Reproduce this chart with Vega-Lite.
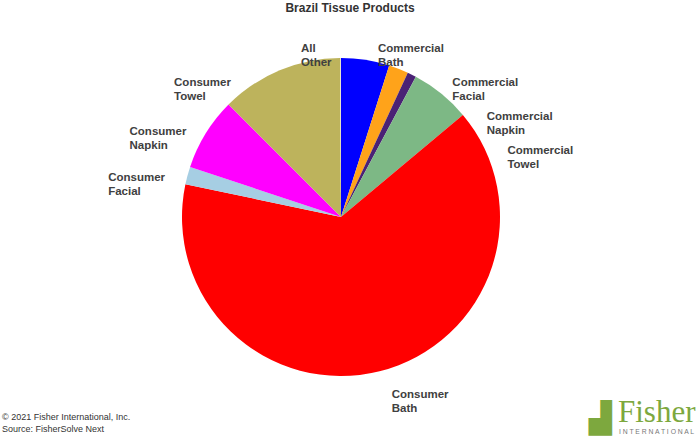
{
  "$schema": "https://vega.github.io/schema/vega-lite/v6.json",
  "width": 682,
  "height": 394,
  "autosize": {"type": "none"},
  "padding": {"left": 0, "top": 20, "right": 18, "bottom": 23},
  "background": "white",
  "title": {"text": "Brazil Tissue Products", "font": "Liberation Sans", "fontSize": 12, "fontWeight": "bold", "color": "#333333", "anchor": "middle", "frame": "group", "offset": 5, "dx": 9},
  "config": {"view": {"stroke": null}},
  "datasets": {
    "shares": [
      {"product": "Commercial Bath", "share": 4.9},
      {"product": "Commercial Facial", "share": 2.0},
      {"product": "Commercial Napkin", "share": 0.9},
      {"product": "Commercial Towel", "share": 6.1},
      {"product": "Consumer Bath", "share": 64.4},
      {"product": "Consumer Facial", "share": 1.8},
      {"product": "Consumer Napkin", "share": 7.4},
      {"product": "Consumer Towel", "share": 12.4},
      {"product": "All Other", "share": 0.1}
    ],
    "notes": [{"note": "© 2021 Fisher International, Inc.\nSource: FisherSolve Next"}],
    "logo": [{"name": "Fisher", "sub": "I N T E R N A T I O N A L", "icon": "▟"}]
  },
  "layer": [
    {
      "data": {"name": "shares"},
      "transform": [
        {"window": [{"op": "row_number", "as": "idx"}]},
        {"stack": "share", "groupby": [], "sort": [{"field": "idx", "order": "ascending"}], "as": ["s0", "s1"]}
      ],
      "encoding": {
        "theta": {"field": "s0", "type": "quantitative", "stack": null, "scale": {"domain": [0, 100]}}
      },
      "layer": [
        {
          "mark": {"type": "arc", "radius": 159},
          "encoding": {
            "theta2": {"field": "s1"},
            "color": {
              "field": "product", "type": "nominal", "legend": null,
              "scale": {
                "domain": ["Commercial Bath", "Commercial Facial", "Commercial Napkin", "Commercial Towel", "Consumer Bath", "Consumer Facial", "Consumer Napkin", "Consumer Towel", "All Other"],
                "range": ["#0000FF", "#FFA31A", "#4A2275", "#7DB885", "#FF0000", "#A6CEE3", "#FF00FF", "#BDB35C", "#E6E2C8"]
              }
            }
          }
        },
        {
          "transform": [{"filter": {"field": "product", "equal": "Commercial Bath"}}],
          "mark": {"type": "text", "radius": 172, "thetaOffset": 0.2168, "align": "left", "baseline": "middle", "lineBreak": " ", "lineHeight": 14, "font": "Liberation Sans", "fontSize": 11.5, "fontWeight": "bold", "color": "#404040"},
          "encoding": {"text": {"field": "product", "type": "nominal"}}
        },
        {
          "transform": [{"filter": {"field": "product", "equal": "Commercial Facial"}}],
          "mark": {"type": "text", "radius": 174, "thetaOffset": 0.3864, "align": "left", "baseline": "middle", "lineBreak": " ", "lineHeight": 14, "font": "Liberation Sans", "fontSize": 11.5, "fontWeight": "bold", "color": "#404040"},
          "encoding": {"text": {"field": "product", "type": "nominal"}}
        },
        {
          "transform": [{"filter": {"field": "product", "equal": "Commercial Napkin"}}],
          "mark": {"type": "text", "radius": 177, "thetaOffset": 0.5342, "align": "left", "baseline": "middle", "lineBreak": " ", "lineHeight": 14, "font": "Liberation Sans", "fontSize": 11.5, "fontWeight": "bold", "color": "#404040"},
          "encoding": {"text": {"field": "product", "type": "nominal"}}
        },
        {
          "transform": [{"filter": {"field": "product", "equal": "Commercial Towel"}}],
          "mark": {"type": "text", "radius": 179, "thetaOffset": 0.7030, "align": "left", "baseline": "middle", "lineBreak": " ", "lineHeight": 14, "font": "Liberation Sans", "fontSize": 11.5, "fontWeight": "bold", "color": "#404040"},
          "encoding": {"text": {"field": "product", "type": "nominal"}}
        },
        {
          "transform": [{"filter": {"field": "product", "equal": "Consumer Bath"}}],
          "mark": {"type": "text", "radius": 185, "thetaOffset": 1.9907, "align": "left", "baseline": "middle", "lineBreak": " ", "lineHeight": 14, "font": "Liberation Sans", "fontSize": 11.5, "fontWeight": "bold", "color": "#404040"},
          "encoding": {"text": {"field": "product", "type": "nominal"}}
        },
        {
          "transform": [{"filter": {"field": "product", "equal": "Consumer Facial"}}],
          "mark": {"type": "text", "radius": 236, "thetaOffset": -0.0426, "align": "left", "baseline": "middle", "lineBreak": " ", "lineHeight": 14, "font": "Liberation Sans", "fontSize": 11.5, "fontWeight": "bold", "color": "#404040"},
          "encoding": {"text": {"field": "product", "type": "nominal"}}
        },
        {
          "transform": [{"filter": {"field": "product", "equal": "Consumer Napkin"}}],
          "mark": {"type": "text", "radius": 228, "thetaOffset": 0.0627, "align": "left", "baseline": "middle", "lineBreak": " ", "lineHeight": 14, "font": "Liberation Sans", "fontSize": 11.5, "fontWeight": "bold", "color": "#404040"},
          "encoding": {"text": {"field": "product", "type": "nominal"}}
        },
        {
          "transform": [{"filter": {"field": "product", "equal": "Consumer Towel"}}],
          "mark": {"type": "text", "radius": 214, "thetaOffset": -0.1094, "align": "left", "baseline": "middle", "lineBreak": " ", "lineHeight": 14, "font": "Liberation Sans", "fontSize": 11.5, "fontWeight": "bold", "color": "#404040"},
          "encoding": {"text": {"field": "product", "type": "nominal"}}
        },
        {
          "transform": [{"filter": {"field": "product", "equal": "All Other"}}],
          "mark": {"type": "text", "radius": 173, "thetaOffset": -0.2276, "align": "left", "baseline": "middle", "lineBreak": " ", "lineHeight": 14, "font": "Liberation Sans", "fontSize": 11.5, "fontWeight": "bold", "color": "#404040"},
          "encoding": {"text": {"field": "product", "type": "nominal"}}
        }
      ]
    },
    {
      "data": {"name": "notes"},
      "mark": {"type": "text", "align": "left", "baseline": "middle", "lineBreak": "\n", "lineHeight": 12, "font": "Liberation Sans", "fontSize": 9, "color": "#333333"},
      "encoding": {"text": {"field": "note"}, "x": {"value": 2}, "y": {"value": 397}}
    },
    {
      "data": {"name": "logo"},
      "mark": {"type": "text", "align": "left", "baseline": "alphabetic", "font": "DejaVu Sans", "fontSize": 30, "color": "#7DA83E"},
      "encoding": {"text": {"field": "icon"}, "x": {"value": 589}, "y": {"value": 408}}
    },
    {
      "data": {"name": "logo"},
      "mark": {"type": "text", "align": "left", "baseline": "alphabetic", "font": "Liberation Serif", "fontSize": 31, "color": "#7DA83E"},
      "encoding": {"text": {"field": "name"}, "x": {"value": 618}, "y": {"value": 402}}
    },
    {
      "data": {"name": "logo"},
      "mark": {"type": "text", "align": "left", "baseline": "middle", "font": "Liberation Sans", "fontSize": 6.8, "color": "#777777"},
      "encoding": {"text": {"field": "sub"}, "x": {"value": 619}, "y": {"value": 412}}
    }
  ]
}
